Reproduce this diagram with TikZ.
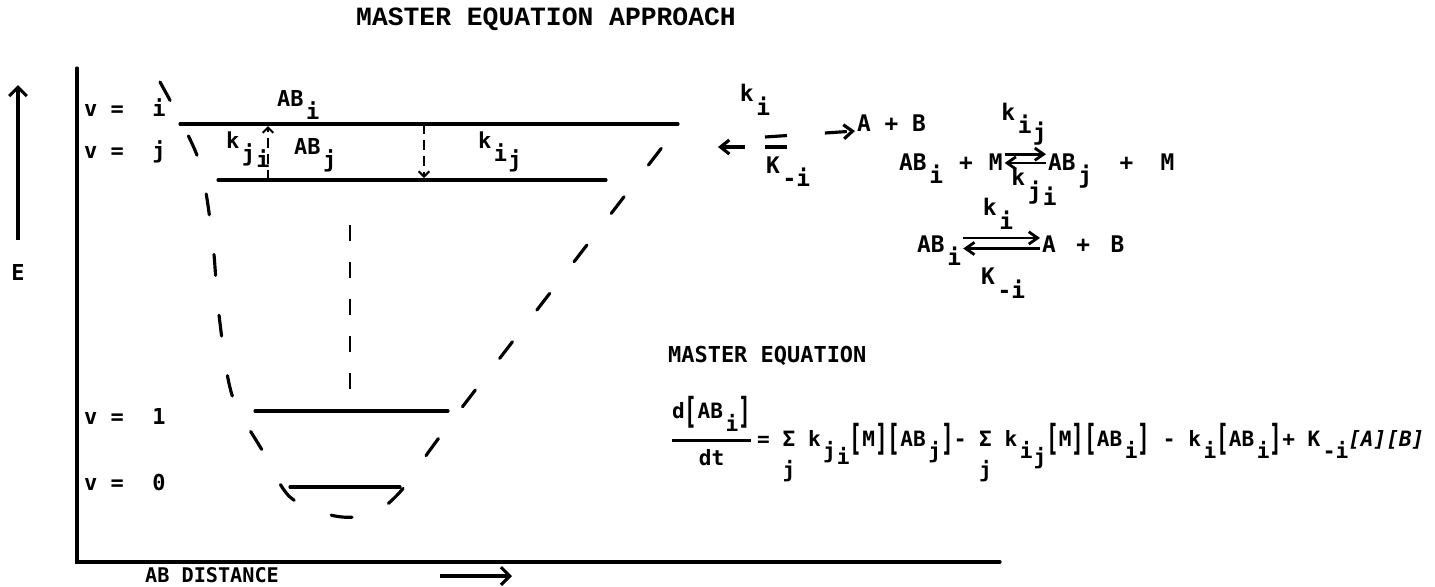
\documentclass[tikz,border=0pt]{standalone}
\usepackage{fontspec}
\usepackage{amsmath}
\setmainfont{DejaVu Sans Mono}
\newfontfamily\fuentetitulo{Liberation Mono}
\usetikzlibrary{arrows.meta}
\usetikzlibrary{calc}
\newcommand{\lo}[1]{\hspace{0.12em}\raisebox{-0.6em}{#1}}
\newcommand{\loo}[1]{\hspace{0.05em}\raisebox{-0.3em}{#1}}
\newcommand{\cor}[1]{\raisebox{-0.2em}{\scalebox{1}[1.7]{#1}}}
\newcommand{\sumaj}{\begin{tabular}[t]{@{}c@{}}Σ\\[0.35em]j\end{tabular}}
\tikzset{
  titulo/.style={font=\fuentetitulo\bfseries\fontsize{15}{17}\selectfont, inner sep=1pt},
  etiqueta/.style={font=\bfseries\fontsize{12.5}{14}\selectfont, inner sep=1pt},
  reaccion/.style={font=\bfseries\fontsize{13}{15}\selectfont, inner sep=1pt},
  ecuacion/.style={font=\bfseries\fontsize{12}{13.5}\selectfont, inner sep=1pt},
  eje/.style={line width=1.8pt, line cap=round},
  nivel/.style={line width=1.8pt, line cap=round},
  pared/.style={line width=1.8pt, line cap=round, dash pattern=on 0.42cm off 0.8cm},
  salto/.style={line width=1.2pt, dash pattern=on 0.2cm off 0.12cm, -{Straight Barb[length=3pt,width=6pt]}},
  guia/.style={line width=1.6pt, dash pattern=on 0.32cm off 0.42cm},
  flecha/.style={line width=1.8pt, -{Straight Barb[length=5pt,width=10pt]}},
  reac/.style={line width=1.6pt, -{Straight Barb[length=5pt,width=7pt]}},
  reacs/.style={line width=1.8pt, dash pattern=on 0.44cm off 0.76cm, -{Straight Barb[length=5pt,width=8pt]}},
  reaci/.style={line width=1.8pt, dash pattern=on 0.44cm off 0.4cm, -{Straight Barb[length=5pt,width=8pt]}}
}
\begin{document}
\begin{tikzpicture}[x=0.02cm, y=-0.02cm]
  \useasboundingbox (0,0) rectangle (1435,586);
  \node[titulo] (tit) at (546,19) {MASTER EQUATION APPROACH};

  % ejes
  \draw[eje] (77,68) -- (77,562) -- (1000,562);
  \node[etiqueta, font=\bfseries\fontsize{11.5}{13}\selectfont] (dist) at (212,575) {AB DISTANCE};
  \coordinate (d0) at (440,576);
  \coordinate (d1) at (512,576);
  \draw[flecha] (d0) -- (d1);
  \node[etiqueta] (en) at (18,272) {E};
  \coordinate (e0) at (18,240);
  \coordinate (e1) at (18,85);
  \draw[flecha] (e0) -- (e1);

  % niveles
  \node[etiqueta, anchor=west] (vi) at (82,108) {v =\hspace{1.3em}i};
  \node[etiqueta, anchor=west] (vj) at (82,152) {v =\hspace{1.3em}j};
  \node[etiqueta, anchor=west] (v1) at (82,416) {v =\hspace{1.3em}1};
  \node[etiqueta, anchor=west] (v0) at (82,482) {v =\hspace{1.3em}0};
  \draw[nivel] (180,124) -- (678,124);
  \draw[nivel] (218,180) -- (606,180);
  \draw[nivel] (255,411) -- (448,411);
  \draw[nivel] (290,487) -- (400,487);
  \node[etiqueta, anchor=base west] (abi) at (275,106) {AB\lo{i}};
  \node[etiqueta, anchor=base west] (abj) at (292,154) {AB\lo{j}};
  \node[etiqueta, anchor=base west] (kji) at (224,148) {k\lo{j\loo{i}}};
  \node[etiqueta, anchor=base west] (kij) at (476,148) {k\lo{i\loo{j}}};
  \coordinate (su0) at (268,180);
  \coordinate (su1) at (268,126);
  \coordinate (ba0) at (424,124);
  \coordinate (ba1) at (424,178);
  \draw[salto] (su0) -- (su1);
  \draw[salto] (ba0) -- (ba1);
  \draw[guia] (350,225) -- (350,405);

  % pozo de potencial
  \draw[pared] plot[smooth] coordinates {(160,82) (198,158) (212,235) (219,315)
    (232,395) (262,450) (290,497) (335,516) (372,514) (400,492) (430,450)
    (460,410) (560,280) (680,124)};

  % reacciones
  \node[reaccion] (k1) at (755,100) {k\lo{i}};
  \node[reaccion, anchor=base west] (km1) at (764,173) {K\lo{-i}};
  \node[reaccion, anchor=base west] (ab1) at (855,131) {A\hspace{0.6em}+\hspace{0.6em}B};
  \coordinate (r1a) at (765,137);
  \coordinate (r1b) at (787,147);
  \coordinate (r1c) at (718,147);
  \draw[reacs] (r1a) -- (ab1.base west);
  \draw[reaci] (r1b) -- (r1c);

  \node[reaccion, anchor=base west] (r2a) at (897,170) {AB\lo{i}\hspace{0.7em}+\hspace{0.7em}M};
  \node[reaccion, anchor=base west] (r2b) at (1046,170) {AB\lo{j}\hspace{1.2em}+\hspace{1.2em}M};
  \node[reaccion] (k2) at (1024,124) {k\lo{i\loo{j}}};
  \node[reaccion] (km2) at (1034,187) {k\lo{j\loo{i}}};
  \draw[reac] ([yshift=9pt]r2a.base east) -- ([yshift=9pt]r2b.base west);
  \draw[reac] ([yshift=4pt]r2b.base west) -- ([yshift=4pt]r2a.base east);

  \node[reaccion, anchor=base west] (r3a) at (915,252) {AB\lo{i}};
  \node[reaccion, anchor=base west] (r3b) at (1040,252) {A\hspace{0.9em}+\hspace{0.9em}B};
  \node[reaccion] (k3) at (998,214) {k\lo{i}};
  \node[reaccion] (km3) at (1003,283) {K\lo{-i}};
  \draw[reac] ([yshift=8pt]r3a.base east) -- ([yshift=8pt]r3b.base west);
  \draw[reac] ([yshift=2pt]r3b.base west) -- ([yshift=2pt]r3a.base east);

  % ecuacion maestra
  \node[etiqueta, anchor=west] (me) at (666,356) {MASTER EQUATION};
  \node[ecuacion, anchor=base west] (fr) at (668,446)
    {$\genfrac{}{}{1.5pt}{0}{\hbox{d\cor{[}AB\lo{i}\cor{]}}}{\hbox{dt}}$};
  \node[ecuacion, anchor=base west] (eq) at (fr.base east)
    {= \sumaj{} k\lo{j\loo{i}}\cor{[}M\cor{]}\cor{[}AB\lo{j}\cor{]}- \sumaj{} k\lo{i\loo{j}}\cor{[}M\cor{]}\cor{[}AB\lo{i}\cor{]} - k\lo{i}\cor{[}AB\lo{i}\cor{]}+ K\lo{-i}\textit{[A][B]}};
\end{tikzpicture}
\end{document}
